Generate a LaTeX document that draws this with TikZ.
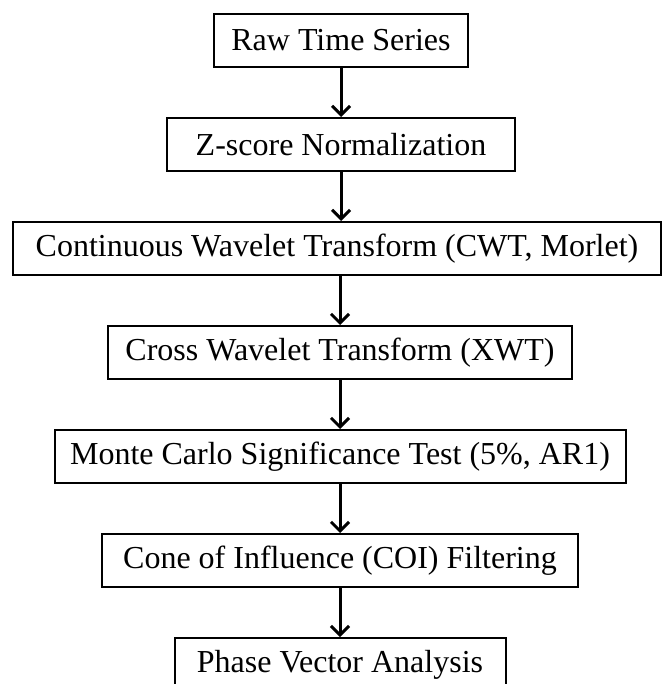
\documentclass[tikz,border=0pt]{standalone}
\usepackage{fontspec}
\setmainfont{Liberation Serif}
\usetikzlibrary{positioning,chains,arrows.meta}

\begin{document}
\begin{tikzpicture}[x=1pt,y=1pt,
  stepbox/.style={draw,line width=2pt,minimum height=53pt,inner sep=0pt,
    font=\fontsize{32}{38}\selectfont},
  flow/.style={line width=3pt,-{Straight Barb[length=9pt,width=18pt,line width=3pt]}}
]
\useasboundingbox (0,0) rectangle (662,-684);

% the steps of the analysis
\begin{scope}[start chain=going below,node distance=49pt]
  \node[stepbox,on chain,minimum width=254pt] at (341,-40.5) (raw) {Raw Time Series};
  \node[stepbox,on chain,minimum width=348pt] (znorm) {Z-score Normalization};
  \node[stepbox,on chain,minimum width=648pt,xshift=-4pt] (cwt) {Continuous Wavelet Transform (CWT, Morlet)};
  \node[stepbox,on chain,minimum width=464pt,xshift=3pt] (xwt) {Cross Wavelet Transform (XWT)};
  \node[stepbox,on chain,minimum width=571pt] (mc) {Monte Carlo Significance Test (5\%, AR1)};
  \node[stepbox,on chain,minimum width=476pt] (coi) {Cone of Influence (COI) Filtering};
  \node[stepbox,on chain,minimum width=331pt] (phase) {Phase Vector Analysis};
\end{scope}

% the arrows
\draw[flow] (raw) -- (znorm);
\draw[flow] (znorm.south) -- (znorm.south |- cwt.north);
\draw[flow] (xwt.north |- cwt.south) -- (xwt.north);
\draw[flow] (xwt) -- (mc);
\draw[flow] (mc) -- (coi);
\draw[flow] (coi) -- (phase);
\end{tikzpicture}
\end{document}
